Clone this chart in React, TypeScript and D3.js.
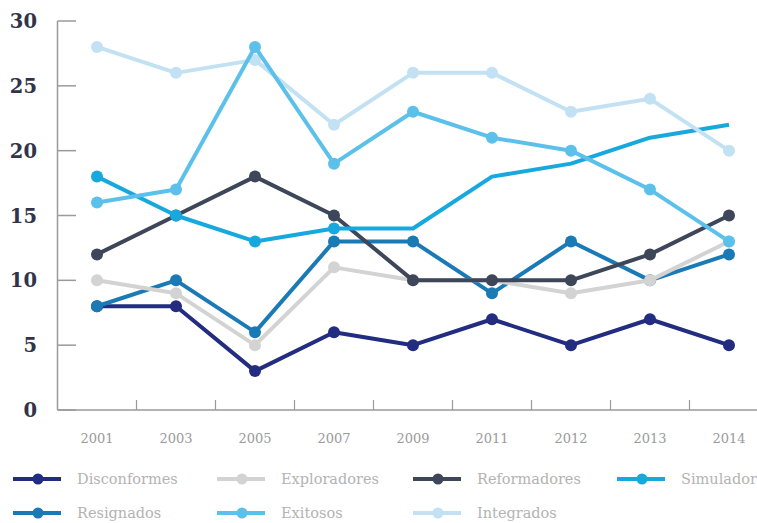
import React from "react";
import * as d3 from "d3";

const years = ["2001", "2003", "2005", "2007", "2009", "2011", "2012", "2013", "2014"];
const yTicks = [0, 5, 10, 15, 20, 25, 30];

const disconformes = [8, 8, 3, 6, 5, 7, 5, 7, 5];
const exploradores = [10, 9, 5, 11, 10, 10, 9, 10, 13];
const reformadores = [12, 15, 18, 15, 10, 10, 10, 12, 15];
const simulador = [18, 15, 13, 14, 14, 18, 19, 21, 22];
const resignados = [8, 10, 6, 13, 13, 9, 13, 10, 12];
const exitosos = [16, 17, 28, 19, 23, 21, 20, 17, 13];
const integrados = [28, 26, 27, 22, 26, 26, 23, 24, 20];

// number of leading points that carry a marker for Simulador
const simuladorMarkerCount = 4;

const seriesNames = ["Disconformes", "Exploradores", "Reformadores", "Simulador", "Resignados", "Exitosos", "Integrados"];
const seriesValues = [disconformes, exploradores, reformadores, simulador, resignados, exitosos, integrados];
const seriesColors = ["#222c80", "#d3d3d3", "#3e4659", "#17a9de", "#1a7ab6", "#5cc1ea", "#c2e2f4"];
// drawing order (bottom to top)
const drawOrder = [0, 4, 1, 2, 3, 6, 5];

const W = 757;
const H = 523;
const axisX = 57.5;
const top = 21;
const bottom = 410;

export default function App() {
  const x = d3.scaleBand<string>().domain(years).range([axisX, axisX + 79 * years.length]).padding(0);
  const cx = (d: string) => (x(d) ?? 0) + x.bandwidth() / 2;
  const y = d3.scaleLinear().domain([0, 30]).range([bottom, top]);
  const line = d3
    .line<number>()
    .x((_, i) => cx(years[i]))
    .y((v) => y(v));

  const boundaries = years.slice(1).map((d) => x(d) ?? 0);

  const legendCols = [13, 217, 413, 617];
  const legendRows = [479, 513];

  return (
    <svg width={W} height={H} style={{ position: "absolute", left: 0, top: 0, background: "#fff" }}>
      {/* axes */}
      <line x1={axisX} x2={axisX} y1={top} y2={bottom} stroke="#9a9a9a" strokeWidth={1.5} />
      <line x1={axisX} x2={W} y1={bottom} y2={bottom} stroke="#9a9a9a" strokeWidth={1.5} />
      {yTicks.map((t) => (
        <g key={t}>
          <line x1={axisX} x2={76} y1={y(t)} y2={y(t)} stroke="#9a9a9a" strokeWidth={1.5} />
          <text
            x={37}
            y={y(t) + 7}
            textAnchor="end"
            fontFamily="'DejaVu Serif', serif"
            fontWeight="bold"
            fontSize={19.5}
            fill="#30344a"
          >
            {t}
          </text>
        </g>
      ))}
      {boundaries.map((b, i) => (
        <line key={i} x1={b} x2={b} y1={bottom} y2={bottom - 10} stroke="#9a9a9a" strokeWidth={1.2} />
      ))}
      {years.map((yr) => (
        <text
          key={yr}
          x={cx(yr)}
          y={443}
          textAnchor="middle"
          fontFamily="'DejaVu Serif', serif"
          fontSize={13}
          fill="#9a9a9a"
        >
          {yr}
        </text>
      ))}

      {/* series */}
      {drawOrder.map((si) => {
        const vals = seriesValues[si];
        const color = seriesColors[si];
        const markerCount = seriesNames[si] === "Simulador" ? simuladorMarkerCount : vals.length;
        return (
          <g key={seriesNames[si]}>
            <path d={line(vals) ?? ""} fill="none" stroke={color} strokeWidth={4} strokeLinejoin="round" />
            {vals.slice(0, markerCount).map((v, i) => (
              <circle key={i} cx={cx(years[i])} cy={y(v)} r={6} fill={color} />
            ))}
          </g>
        );
      })}

      {/* legend */}
      {seriesNames.map((name, i) => {
        const col = i % 4;
        const row = Math.floor(i / 4);
        const lx = legendCols[col];
        const ly = legendRows[row];
        return (
          <g key={name}>
            <line x1={lx} x2={lx + 48} y1={ly} y2={ly} stroke={seriesColors[i]} strokeWidth={4} />
            <circle cx={lx + 25} cy={ly} r={5.5} fill={seriesColors[i]} />
            <text x={lx + 64} y={ly + 5} fontFamily="'DejaVu Serif', serif" fontSize={14.5} fill="#b3b3b3">
              {name}
            </text>
          </g>
        );
      })}
    </svg>
  );
}
